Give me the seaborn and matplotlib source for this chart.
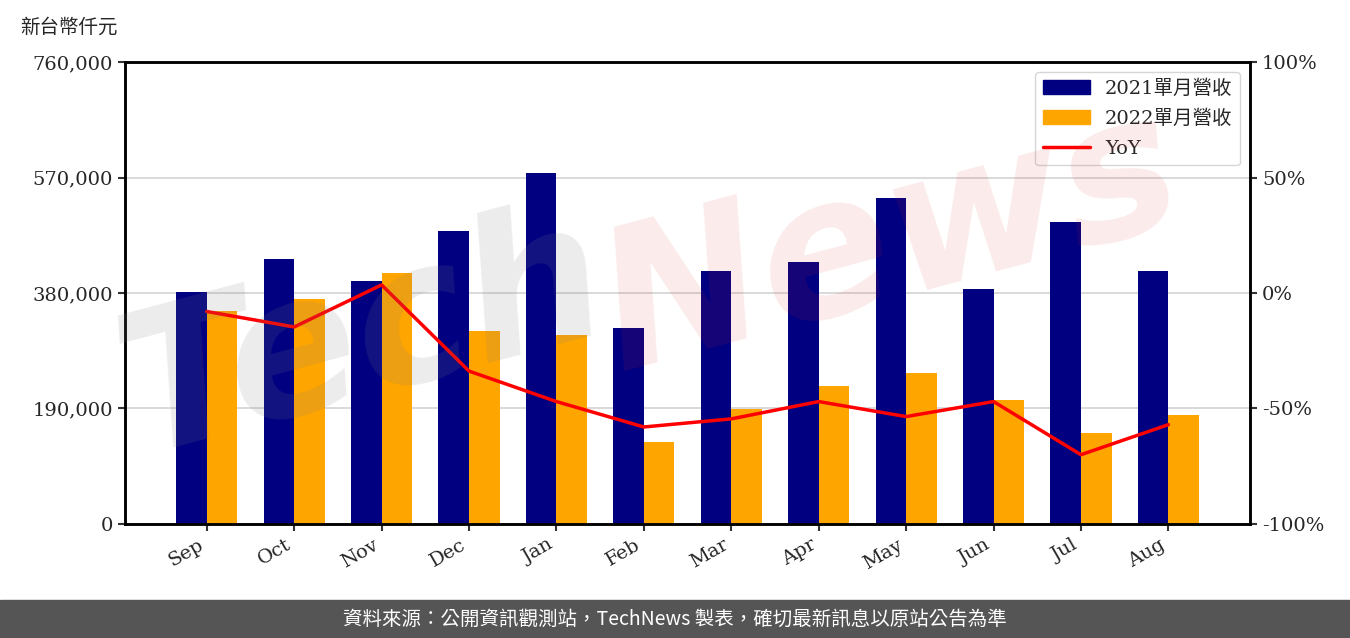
import numpy as np
import pandas as pd
import seaborn as sns
import matplotlib.pyplot as plt
from matplotlib.patches import Patch, Rectangle
from matplotlib.lines import Line2D
from matplotlib.ticker import FuncFormatter

# data (新台幣仟元)
months = ['Sep', 'Oct', 'Nov', 'Dec', 'Jan', 'Feb', 'Mar', 'Apr', 'May', 'Jun', 'Jul', 'Aug']
rev_2021 = [382000, 436000, 400000, 482000, 577000, 322000, 416000, 431000, 536000, 387000, 497000, 416000]
rev_2022 = [350000, 370000, 413000, 317000, 311000, 135000, 189000, 227000, 248000, 204000, 150000, 179000]
yoy = [-0.08, -0.147, 0.035, -0.338, -0.47, -0.58, -0.545, -0.47, -0.535, -0.47, -0.70, -0.57]
series_names = ['2021單月營收', '2022單月營收']

NAVY = '#000080'
ORANGE = '#FFA500'
RED = '#FF0000'

sns.set_style('ticks')
plt.rcParams['font.family'] = ['DejaVu Serif', 'Noto Sans CJK TC']
plt.rcParams['font.size'] = 14

df = pd.DataFrame({
    'month': months * 2,
    'value': rev_2021 + rev_2022,
    'series': [series_names[0]] * 12 + [series_names[1]] * 12,
})

fig = plt.figure(figsize=(13.5, 6.38), dpi=100)
ax = fig.add_axes([0.0926, 0.1787, 0.8334, 0.7241])

sns.barplot(data=df, x='month', y='value', hue='series', order=months,
            hue_order=series_names, palette=[NAVY, ORANGE], saturation=1,
            width=0.7, linewidth=0, edgecolor='none', ax=ax, legend=False, zorder=2)

ax.set_ylim(0, 760000)
ax.set_yticks(np.arange(0, 760001, 190000))
ax.yaxis.set_major_formatter(FuncFormatter(lambda v, p: f'{int(v):,}'))
ax.grid(axis='y', color='#d3d3d3', linewidth=1.2, zorder=0)
ax.set_axisbelow(True)
ax.set_xlabel('')
ax.set_ylabel('')
ax.set_xlim(-0.935, 11.935)
for lab in ax.get_xticklabels():
    lab.set_rotation(30)
    lab.set_ha('right')
ax.tick_params(axis='both', labelsize=14, width=1.5, length=5, color='#333333')
for s in ax.spines.values():
    s.set_linewidth(1.8)
    s.set_color('black')

ax2 = ax.twinx()
sns.lineplot(x=np.arange(len(months)), y=yoy, color=RED, linewidth=2.5, ax=ax2, zorder=3)
ax2.set_ylim(-1, 1)
ax2.set_yticks([-1, -0.5, 0, 0.5, 1])
ax2.yaxis.set_major_formatter(FuncFormatter(lambda v, p: f'{int(round(v * 100))}%'))
ax2.tick_params(axis='y', labelsize=14, width=1.5, length=5, color='#333333')
for s in ax2.spines.values():
    s.set_linewidth(1.8)
    s.set_color('black')

handles = [Patch(color=NAVY, label=series_names[0]),
           Patch(color=ORANGE, label=series_names[1]),
           Line2D([0], [0], color=RED, linewidth=2.5, label='YoY')]
leg = ax2.legend(handles=handles, loc='upper right', fontsize=14, frameon=True,
                 edgecolor='#cccccc', fancybox=True, handlelength=2.4,
                 labelspacing=0.6)

# faint watermark
fig.text(0.27, 0.47, 'Tech', fontsize=140, family='DejaVu Sans', weight='bold',
         style='italic', color=(0.5, 0.5, 0.5), alpha=0.15, rotation=15,
         ha='center', va='center', zorder=10)
fig.text(0.66, 0.62, 'News', fontsize=140, family='DejaVu Sans', weight='bold',
         style='italic', color=(0.85, 0.2, 0.2), alpha=0.10, rotation=15,
         ha='center', va='center', zorder=10)

fig.text(0.015, 0.958, '新台幣仟元', fontsize=14, ha='left', va='center',
         family=['Noto Sans CJK TC', 'DejaVu Serif'])

# footer band
fig.patches.append(Rectangle((0, 0), 1, 38 / 638, transform=fig.transFigure,
                             color='#555555', zorder=0))
fig.text(0.5, 19 / 638, '資料來源：公開資訊觀測站，TechNews 製表，確切最新訊息以原站公告為準',
         color='white', fontsize=14, ha='center', va='center',
         family=['Noto Sans CJK TC', 'DejaVu Sans'])

fig.savefig('out.png', dpi=100)
